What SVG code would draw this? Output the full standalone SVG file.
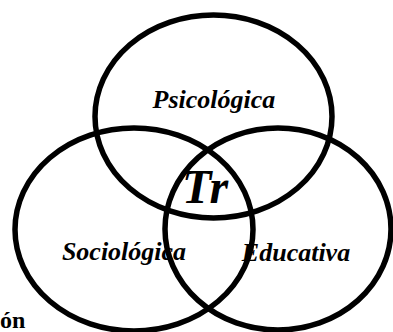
<svg xmlns="http://www.w3.org/2000/svg" width="393" height="332" viewBox="0 0 393 332">
<style>
.ring{fill:none;stroke:#000;stroke-width:5.5}
.lbl{font-family:"Liberation Serif","Times New Roman",serif;font-style:italic;font-weight:bold;fill:#000;text-anchor:middle}
.cut{font-family:"Liberation Serif","Times New Roman",serif;font-weight:bold;fill:#000}
</style>
<rect width="393" height="332" fill="#fff"/>
<g id="connectors"></g>
<g id="psicologica">
<ellipse class="ring" cx="213.5" cy="116.5" rx="118.5" ry="101.5"/>
<text class="lbl" x="214" y="108" font-size="26">Psicológica</text>
</g>
<g id="sociologica">
<ellipse class="ring" cx="134" cy="229.5" rx="119" ry="101.5"/>
<text class="lbl" x="124" y="260" font-size="26">Sociológica</text>
</g>
<g id="educativa">
<ellipse class="ring" cx="278" cy="229" rx="113" ry="101"/>
<text class="lbl" x="296" y="261" font-size="26">Educativa</text>
</g>
<g id="tr">
<text class="lbl" x="205" y="203" font-size="48">Tr</text>
</g>
<g id="fragment">
<text class="cut" x="0" y="328" font-size="24">ón</text>
</g>
</svg>
